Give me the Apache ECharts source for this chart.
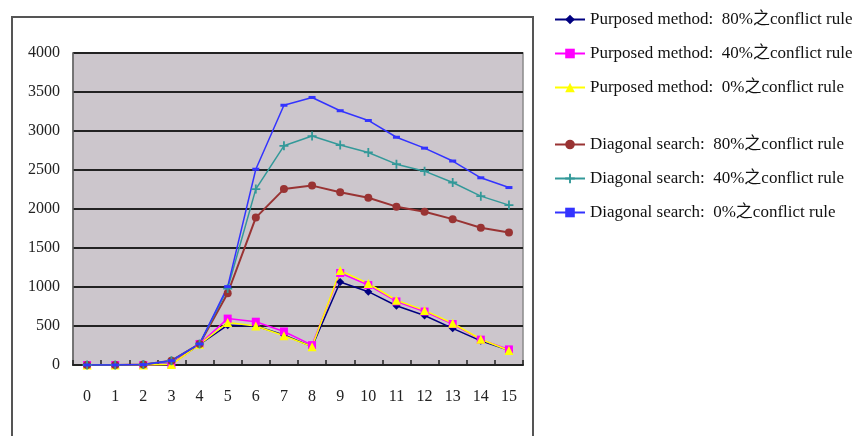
<!DOCTYPE html>
<html>
<head>
<meta charset="utf-8">
<script src="https://cdn.jsdelivr.net/npm/echarts@6/dist/echarts.min.js"></script>
<style>
  html, body { margin: 0; padding: 0; background: #fff; }
  #chart { width: 863px; height: 436px; }
</style>
</head>
<body>
<div id="chart"></div>
<script>
// Experiment axis: 0..15
const categories = ['0','1','2','3','4','5','6','7','8','9','10','11','12','13','14','15'];

// Series names
const namesPurposed = [
  'Purposed method:  80%之conflict rule',
  'Purposed method:  40%之conflict rule',
  'Purposed method:  0%之conflict rule'
];
const namesDiagonal = [
  'Diagonal search:  80%之conflict rule',
  'Diagonal search:  40%之conflict rule',
  'Diagonal search:  0%之conflict rule'
];

// Values
const purposed80 = [0, 0, 0, 10, 265, 510, 500, 385, 235, 1065, 940, 760, 635, 470, 310, 190];
const purposed40 = [0, 0, 0, 10, 270, 595, 555, 430, 255, 1180, 1025, 815, 685, 525, 325, 200];
const purposed0  = [0, 0, 0, 5, 265, 545, 500, 375, 235, 1210, 1045, 830, 700, 535, 330, 185];
const diagonal80 = [0, 0, 5, 55, 270, 920, 1890, 2255, 2300, 2215, 2145, 2030, 1965, 1870, 1760, 1700];
const diagonal40 = [0, 0, 5, 55, 270, 980, 2255, 2810, 2935, 2820, 2725, 2575, 2485, 2340, 2165, 2050];
const diagonal0  = [0, 0, 5, 55, 270, 1005, 2510, 3330, 3430, 3260, 3135, 2920, 2780, 2615, 2400, 2275];

// Y axis ticks
const yMin = 0, yMax = 4000, yStep = 500;

const FONT = "'Liberation Serif', 'Noto Sans CJK TC', serif";
const PLUS = 'path://M4,0H6V4H10V6H6V10H4V6H0V4H4Z';

function line(name, data, color, symbol, size, width) {
  return {
    name, type: 'line', data,
    symbol, symbolSize: size, showSymbol: true,
    lineStyle: { color, width: width || 1.5 },
    itemStyle: { color, borderWidth: 0 },
    emphasis: { disabled: true },
    animation: false
  };
}

const legendCommon = {
  orient: 'vertical', left: 549,
  itemWidth: 30, itemHeight: 12, itemGap: 17,
  textStyle: { fontFamily: FONT, fontSize: 17, color: '#111' },
  selectedMode: false
};

const chart = echarts.init(document.getElementById('chart'));
chart.setOption({
  backgroundColor: '#ffffff',
  animation: false,
  graphic: [{
    type: 'rect', z: -10,
    shape: { x: 12, y: 17, width: 521, height: 440 },
    style: { fill: 'none', stroke: '#555', lineWidth: 2 }
  }],
  grid: {
    left: 73, top: 53, right: 340, bottom: 71,
    show: true, backgroundColor: '#CCC6CC', borderColor: '#8a8a8a', borderWidth: 1.5
  },
  legend: [
    Object.assign({ data: namesPurposed, top: 6 }, legendCommon),
    Object.assign({ data: namesDiagonal, top: 131 }, legendCommon)
  ],
  xAxis: {
    type: 'category', data: categories, boundaryGap: true,
    axisLine: { lineStyle: { color: '#222', width: 2 } },
    axisTick: { show: true, inside: true, length: 5, interval: 0, lineStyle: { color: '#222', width: 1.5 } },
    axisLabel: { fontFamily: FONT, fontSize: 16, color: '#222', margin: 24, interval: 0 },
    splitLine: { show: false }
  },
  yAxis: {
    type: 'value', min: yMin, max: yMax, interval: yStep,
    axisLine: { show: true, lineStyle: { color: '#666', width: 1.5 } },
    axisTick: { show: false },
    axisLabel: { fontFamily: FONT, fontSize: 16, color: '#222', margin: 13, formatter: v => String(v) },
    splitLine: { lineStyle: { color: '#222', width: 2 } }
  },
  series: [
    line(namesPurposed[0], purposed80, '#000080', 'diamond', 8),
    line(namesPurposed[1], purposed40, '#FF00FF', 'rect', 8),
    line(namesPurposed[2], purposed0, '#FFFF00', 'triangle', 9),
    line(namesDiagonal[0], diagonal80, '#993333', 'circle', 8, 2),
    line(namesDiagonal[1], diagonal40, '#339999', PLUS, 9),
    line(namesDiagonal[2], diagonal0, '#3333FF', 'rect', [7, 3])
  ]
});
</script>
</body>
</html>
